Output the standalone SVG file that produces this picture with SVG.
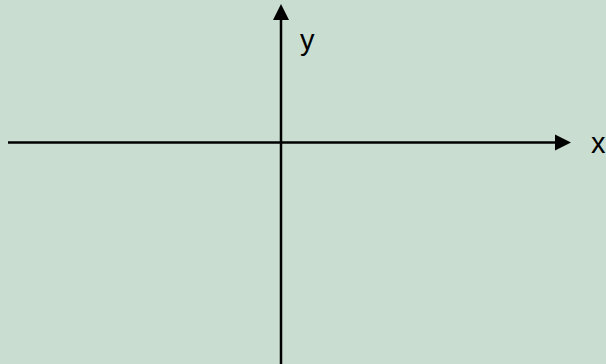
<svg xmlns="http://www.w3.org/2000/svg" width="606" height="364" viewBox="0 0 606 364">
<style>
.axis{stroke:#000;stroke-width:2.5;fill:none}
.head{fill:#000}
.lbl{font-family:"Liberation Sans",Arial,sans-serif;font-size:29px;fill:#000}
</style>
<rect width="606" height="364" fill="#c9ded1"/>
<g id="connectors">
<line class="axis" x1="8" y1="142.5" x2="557" y2="142.5"/>
<polygon class="head" points="555,134.5 571,142.5 555,150.5"/>
<line class="axis" x1="281" y1="364" x2="281" y2="18"/>
<polygon class="head" points="273,20 281,4 289,20"/>
</g>
<g id="label-y"><text class="lbl" x="300" y="50">y</text></g>
<g id="label-x"><text class="lbl" x="591" y="153">x</text></g>
</svg>
